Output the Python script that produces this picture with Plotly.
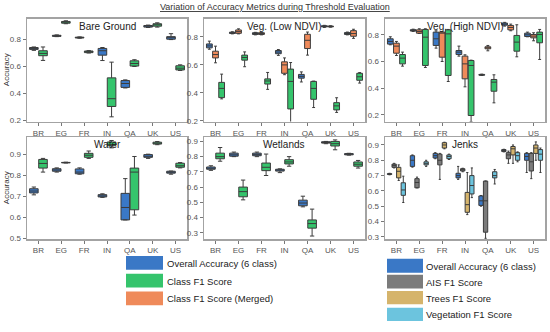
import plotly.graph_objects as go

W, H = 550, 332
countries = ["BR", "EG", "FR", "IN", "QA", "UK", "US"]

# five-number summaries per country: (lower whisker, q1, median, q3, upper whisker)
bare_overall = [(0.72, 0.727, 0.735, 0.741, 0.745), (0.822, 0.824, 0.828, 0.832, 0.835),
                (0.81, 0.812, 0.815, 0.818, 0.82), (0.644, 0.684, 0.717, 0.734, 0.741),
                (0.44, 0.444, 0.473, 0.495, 0.5), (0.89, 0.893, 0.9, 0.905, 0.908),
                (0.8, 0.803, 0.814, 0.822, 0.844)]
bare_class = [(0.645, 0.68, 0.697, 0.717, 0.745), (0.918, 0.922, 0.93, 0.935, 0.94),
              (0.7, 0.703, 0.71, 0.715, 0.718), (0.225, 0.302, 0.36, 0.515, 0.632),
              (0.6, 0.603, 0.622, 0.642, 0.65), (0.893, 0.9, 0.91, 0.918, 0.925),
              (0.57, 0.574, 0.587, 0.605, 0.612)]

vlow_overall = [(0.712, 0.722, 0.736, 0.75, 0.77), (0.822, 0.825, 0.83, 0.834, 0.837),
                (0.815, 0.818, 0.825, 0.83, 0.833), (0.668, 0.68, 0.692, 0.703, 0.71),
                (0.478, 0.505, 0.518, 0.532, 0.55), (0.868, 0.872, 0.876, 0.88, 0.883),
                (0.815, 0.818, 0.825, 0.831, 0.835)]
vlow_merged = [(0.615, 0.65, 0.674, 0.698, 0.734), (0.822, 0.826, 0.838, 0.85, 0.858),
               (0.815, 0.818, 0.825, 0.83, 0.833), (0.53, 0.54, 0.6, 0.622, 0.65),
               (0.67, 0.717, 0.776, 0.819, 0.835), (0.87, 0.872, 0.875, 0.878, 0.88),
               (0.79, 0.805, 0.824, 0.845, 0.855)]
vlow_class = [(0.357, 0.366, 0.432, 0.475, 0.534), (0.587, 0.634, 0.653, 0.67, 0.693),
              (0.425, 0.463, 0.485, 0.5, 0.546), (0.17, 0.285, 0.482, 0.57, 0.617),
              (0.295, 0.354, 0.432, 0.482, 0.484), (0.26, 0.278, 0.307, 0.33, 0.365),
              (0.47, 0.49, 0.515, 0.54, 0.545)]

vhigh_overall = [(0.725, 0.73, 0.75, 0.77, 0.785), (0.825, 0.828, 0.833, 0.838, 0.842),
                 (0.7, 0.72, 0.77, 0.82, 0.83), (0.64, 0.652, 0.67, 0.682, 0.715),
                 (0.495, 0.497, 0.5, 0.503, 0.505), (0.865, 0.872, 0.88, 0.888, 0.893),
                 (0.785, 0.787, 0.8, 0.812, 0.82)]
vhigh_merged = [(0.645, 0.662, 0.715, 0.737, 0.75), (0.81, 0.812, 0.825, 0.837, 0.845),
                (0.6, 0.632, 0.812, 0.82, 0.825), (0.41, 0.47, 0.582, 0.64, 0.65),
                (0.68, 0.695, 0.702, 0.71, 0.72), (0.83, 0.837, 0.855, 0.87, 0.88),
                (0.755, 0.777, 0.79, 0.802, 0.815)]
vhigh_class = [(0.565, 0.582, 0.625, 0.652, 0.67), (0.555, 0.57, 0.782, 0.84, 0.845),
               (0.45, 0.495, 0.807, 0.837, 0.84), (0.15, 0.195, 0.57, 0.607, 0.61),
               (0.29, 0.377, 0.445, 0.465, 0.5), (0.635, 0.677, 0.745, 0.795, 0.875),
               (0.615, 0.74, 0.802, 0.82, 0.84)]

water_overall = [(0.707, 0.716, 0.725, 0.736, 0.744), (0.815, 0.819, 0.825, 0.831, 0.835),
                 (0.805, 0.807, 0.815, 0.83, 0.835), (0.695, 0.697, 0.702, 0.708, 0.712),
                 (0.588, 0.588, 0.647, 0.714, 0.784), (0.88, 0.885, 0.89, 0.898, 0.9),
                 (0.805, 0.81, 0.813, 0.819, 0.82)]
water_class = [(0.815, 0.834, 0.856, 0.875, 0.88), (0.858, 0.859, 0.86, 0.861, 0.862),
               (0.88, 0.885, 0.895, 0.904, 0.915), (0.93, 0.94, 0.945, 0.958, 0.965),
               (0.611, 0.636, 0.815, 0.834, 0.889), (0.945, 0.948, 0.952, 0.957, 0.96),
               (0.835, 0.838, 0.845, 0.857, 0.86)]

wet_overall = [(0.71, 0.717, 0.723, 0.732, 0.74), (0.8, 0.803, 0.812, 0.823, 0.83),
               (0.8, 0.806, 0.815, 0.823, 0.83), (0.695, 0.705, 0.712, 0.717, 0.72),
               (0.47, 0.477, 0.495, 0.514, 0.54), (0.885, 0.889, 0.893, 0.898, 0.9),
               (0.81, 0.812, 0.816, 0.82, 0.822)]
wet_class = [(0.77, 0.786, 0.8, 0.823, 0.86), (0.516, 0.536, 0.57, 0.6, 0.646),
             (0.676, 0.708, 0.73, 0.758, 0.817), (0.737, 0.752, 0.765, 0.78, 0.8),
             (0.278, 0.33, 0.36, 0.384, 0.455), (0.845, 0.87, 0.885, 0.9, 0.91),
             (0.725, 0.737, 0.75, 0.765, 0.775)]

jenks_overall = [(0.705, 0.707, 0.71, 0.713, 0.715), (0.755, 0.76, 0.8, 0.83, 0.835),
                 (0.81, 0.815, 0.83, 0.845, 0.85), (0.675, 0.685, 0.7, 0.715, 0.76),
                 (0.5, 0.505, 0.535, 0.567, 0.57), (0.855, 0.857, 0.865, 0.87, 0.872),
                 (0.72, 0.8, 0.825, 0.845, 0.85)]
jenks_ais = [(0.75, 0.754, 0.765, 0.775, 0.78), (0.62, 0.62, 0.655, 0.68, 0.69),
             (0.675, 0.77, 0.8, 0.84, 0.845), (0.725, 0.73, 0.738, 0.745, 0.748),
             (0.29, 0.33, 0.535, 0.664, 0.665), (0.78, 0.81, 0.835, 0.85, 0.86),
             (0.68, 0.73, 0.79, 0.845, 0.85)]
jenks_trees = [(0.668, 0.685, 0.728, 0.754, 0.77), None,
               (0.875, 0.88, 0.9, 0.915, 0.918), (0.445, 0.46, 0.51, 0.59, 0.72),
               None, (0.78, 0.835, 0.875, 0.89, 0.9),
               (0.8, 0.845, 0.88, 0.9, 0.92)]
jenks_veg = [(0.524, 0.571, 0.606, 0.653, 0.696), (0.76, 0.77, 0.78, 0.79, 0.8),
             (0.805, 0.81, 0.825, 0.835, 0.84), (0.556, 0.58, 0.635, 0.7, 0.75),
             (0.645, 0.685, 0.7, 0.725, 0.74), (0.79, 0.8, 0.83, 0.85, 0.855),
             (0.72, 0.8, 0.84, 0.87, 0.88)]

panel_titles = ["Bare Ground", "Veg. (Low NDVI)", "Veg. (High NDVI)", "Water", "Wetlands", "Jenks"]
legend_left = ["Overall Accuracy (6 class)", "Class F1 Score", "Class F1 Score (Merged)"]
legend_right = ["Overall Accuracy (6 class)", "AIS F1 Score", "Trees F1 Score", "Vegetation F1 Score"]

BLUE, GREEN, ORANGE = "#3a78c6", "#35c46c", "#ef8a5a"
GRAY, TAN, LBLUE = "#7b7b7b", "#d5b46c", "#6cc4de"
EDGE = "#3c3c3c"
FONT = "Liberation Sans, Arial, sans-serif"

panels = [
    ([(bare_overall, BLUE), (bare_class, GREEN)], [0.19, 0.955], [0.2, 0.4, 0.6, 0.8]),
    ([(vlow_overall, BLUE), (vlow_merged, ORANGE), (vlow_class, GREEN)], [0.195, 0.93], [0.2, 0.4, 0.6, 0.8]),
    ([(vhigh_overall, BLUE), (vhigh_merged, ORANGE), (vhigh_class, GREEN)], [0.15, 0.92], [0.2, 0.4, 0.6, 0.8]),
    ([(water_overall, BLUE), (water_class, GREEN)], [0.497, 0.98], [0.5, 0.6, 0.7, 0.8, 0.9]),
    ([(wet_overall, BLUE), (wet_class, GREEN)], [0.258, 0.927], [0.3, 0.4, 0.5, 0.6, 0.7, 0.8, 0.9]),
    ([(jenks_overall, BLUE), (jenks_ais, GRAY), (jenks_trees, TAN), (jenks_veg, LBLUE)], [0.285, 0.95],
     [0.3, 0.4, 0.5, 0.6, 0.7, 0.8, 0.9]),
]

# pixel layout of the plot areas
col_px = [(27, 187), (204, 365), (385, 545)]
row_px = [(19, 123), (139, 242)]

fig = go.Figure()
layout = dict(width=W, height=H, margin=dict(l=0, r=0, t=0, b=0),
              paper_bgcolor="white", plot_bgcolor="white",
              boxmode="group", boxgap=0.2, boxgroupgap=0.06, showlegend=False,
              font=dict(family=FONT, color="#333"))
annotations = []
shapes = []

for i, (series, yr, yt) in enumerate(panels):
    n = i + 1
    r, c = divmod(i, 3)
    x0, x1 = col_px[c]
    y0, y1 = row_px[r]
    xa = "x" if n == 1 else f"x{n}"
    ya = "y" if n == 1 else f"y{n}"
    for k, (stats, color) in enumerate(series):
        xs, lo, q1, md, q3, hi = [], [], [], [], [], []
        for cty, s in zip(countries, stats):
            if s is None:
                continue
            xs.append(cty); lo.append(s[0]); q1.append(s[1]); md.append(s[2]); q3.append(s[3]); hi.append(s[4])
        fig.add_trace(go.Box(x=xs, lowerfence=lo, q1=q1, median=md, q3=q3, upperfence=hi,
                             fillcolor=color, line=dict(color=EDGE, width=1), whiskerwidth=0.5,
                             boxpoints=False, xaxis=xa, yaxis=ya, hoverinfo="skip",
                             alignmentgroup=f"p{n}", offsetgroup=f"s{k}"))
    axline = dict(showline=True, mirror=True, linecolor="#a3a3a3", linewidth=1.5, showgrid=False,
                  zeroline=False, ticks="outside", ticklen=3, tickcolor="#777", tickwidth=1,
                  tickfont=dict(size=8, color="#555", family=FONT))
    layout["xaxis" if n == 1 else f"xaxis{n}"] = dict(
        domain=[x0 / W, x1 / W], anchor=ya, type="category", categoryorder="array",
        categoryarray=countries, range=[-0.5, 6.5], **axline)
    layout["yaxis" if n == 1 else f"yaxis{n}"] = dict(
        domain=[1 - y1 / H, 1 - y0 / H], anchor=xa, range=yr, tickvals=yt,
        ticktext=[f"{v:.1f}" for v in yt], **axline)
    annotations.append(dict(text=panel_titles[i], x=(x0 + x1) / 2 / W, y=1 - (y0 + 7.5) / H,
                            xref="paper", yref="paper", showarrow=False, xanchor="center",
                            yanchor="middle", font=dict(size=10, color="#222", family=FONT)))
    if c == 0:
        annotations.append(dict(text="Accuracy", x=6 / W, y=1 - (y0 + y1) / 2 / H, xref="paper",
                                yref="paper", showarrow=False, textangle=-90, xanchor="center",
                                yanchor="middle", font=dict(size=8, color="#333", family=FONT)))

annotations.append(dict(text="<u>Variation of Accuracy Metrics during Threshold Evaluation</u>",
                        x=275 / W, y=1 - 7 / H, xref="paper", yref="paper", showarrow=False,
                        xanchor="center", yanchor="middle", font=dict(size=9, color="#333", family=FONT)))

# legends
left_boxes = [(259, 273), (277, 291), (295, 309)]
for (t, b), label, color in zip(left_boxes, legend_left, [BLUE, GREEN, ORANGE]):
    shapes.append(dict(type="rect", xref="paper", yref="paper", x0=126 / W, x1=163 / W,
                       y0=1 - b / H, y1=1 - t / H, fillcolor=color, line=dict(width=0)))
    annotations.append(dict(text=label, x=165 / W, y=1 - ((t + b) / 2 + 0.5) / H, xref="paper",
                            yref="paper", showarrow=False, xanchor="left", yanchor="middle",
                            font=dict(size=9.5, color="#222", family=FONT)))
right_boxes = [(262, 276), (278, 292), (294.5, 308), (311.5, 325)]
for (t, b), label, color in zip(right_boxes, legend_right, [BLUE, GRAY, TAN, LBLUE]):
    shapes.append(dict(type="rect", xref="paper", yref="paper", x0=387 / W, x1=423 / W,
                       y0=1 - b / H, y1=1 - t / H, fillcolor=color, line=dict(width=0)))
    annotations.append(dict(text=label, x=424 / W, y=1 - ((t + b) / 2 + 0.5) / H, xref="paper",
                            yref="paper", showarrow=False, xanchor="left", yanchor="middle",
                            font=dict(size=9.5, color="#222", family=FONT)))

layout["annotations"] = annotations
layout["shapes"] = shapes
fig.update_layout(**layout)
fig.write_html("out.html", config={"displayModeBar": False, "staticPlot": True},
               post_script="document.body.style.margin='0';")
